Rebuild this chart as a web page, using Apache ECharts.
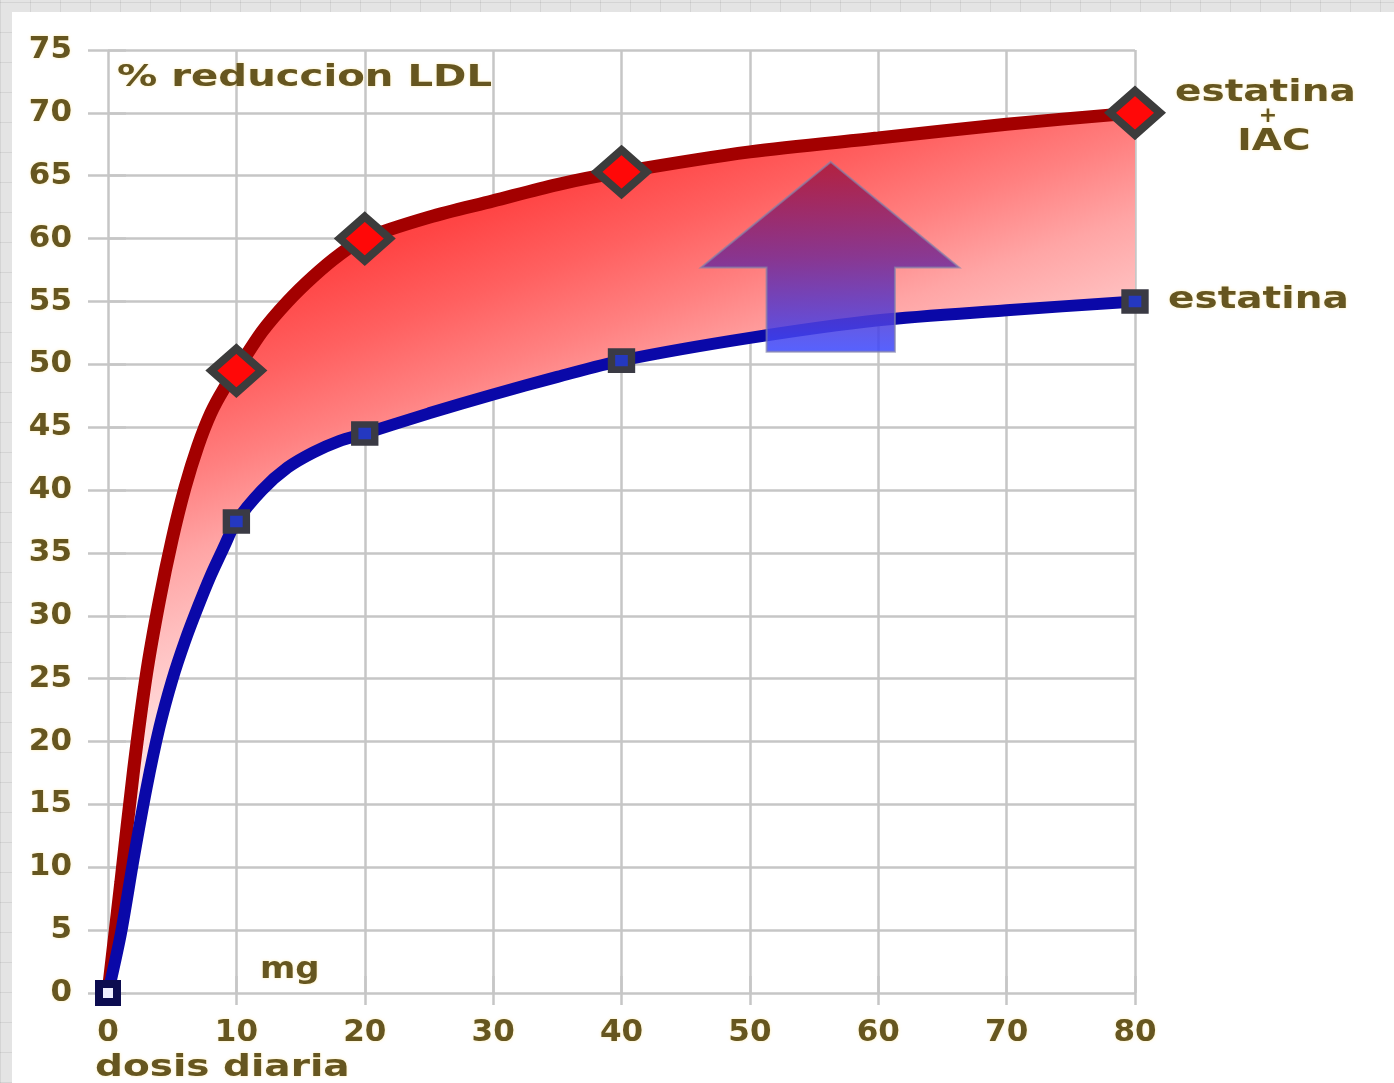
<!DOCTYPE html>
<html><head><meta charset="utf-8">
<script src="https://cdn.jsdelivr.net/npm/echarts@6/dist/echarts.min.js"></script>
<style>
html,body{margin:0;padding:0;}
body{width:1394px;height:1083px;position:relative;overflow:hidden;background:#e4e4e4;
background-image:repeating-linear-gradient(90deg,rgba(0,0,0,0.07) 0 1px,transparent 1px 30px),repeating-linear-gradient(0deg,rgba(0,0,0,0.07) 0 1px,transparent 1px 30px);}
#paper{position:absolute;left:12px;top:12px;right:0;bottom:0;background:#fff;}
#chart{position:absolute;left:0;top:0;width:1394px;height:1083px;}
</style></head><body><div id="paper"></div><div id="chart"></div>
<script>
// ---- data ----
const markerDoses = [0, 10, 20, 40, 80];
const reductionCombo = [0, 49.5, 60, 65.3, 70];     // estatina + IAC
const reductionStatin = [0, 37.5, 44.5, 50.3, 55];  // estatina
// points
const curveDoses  = [0, 1, 2, 3, 4, 5, 6, 7, 8, 9, 10, 12, 14, 16, 18, 20, 25, 30, 35, 40, 50, 60, 70, 80];
const curveCombo  = [0, 8.8, 17.8, 25.4, 31.2, 36.1, 40.2, 43.5, 46.1, 48.0, 49.5, 52.6, 55.0, 57.0, 58.7, 60.0, 61.7, 63.0, 64.3, 65.3, 66.9, 68.0, 69.1, 70];
const curveStatin = [0, 4.7, 10.7, 16.3, 21.1, 24.9, 28.0, 30.7, 33.2, 35.4, 37.5, 40.0, 41.8, 43.0, 43.9, 44.5, 46.1, 47.6, 49.0, 50.3, 52.1, 53.5, 54.3, 55];
const yLabel = '% reduccion LDL';
const xLabel = 'dosis diaria';
const unitLabel = 'mg';
const comboLabel = ['estatina', '+', 'IAC'];
const statinLabel = 'estatina';

// ---- chart ----
const TXT = '#665620';
const GLOW = 'rgba(255,220,100,0.55)';
const GRID = '#c6c6c6';
const chart = echarts.init(document.getElementById('chart'));

// stacked band: stored as [value, dose] so that the value dimension is the stacked one
const statinCurve = curveDoses.map((x, i) => [curveStatin[i], x]);
const bandCurve = curveDoses.map((x, i) => [+(curveCombo[i] - curveStatin[i]).toFixed(2), x]);
const comboMarks = markerDoses.slice(1).map((x, i) => [x, reductionCombo[i + 1]]);
const statinMarks = markerDoses.slice(1).map((x, i) => [x, reductionStatin[i + 1]]);
const originMark = [[markerDoses[0], reductionStatin[0]]];

// arrow outline in data units
const arrowOutline = [[56.3, 66.1], [66.3, 57.7], [61.3, 57.7], [61.3, 51.0], [51.3, 51.0], [51.3, 57.7], [46.2, 57.7]];

const labelStyle = {fontSize: 31, fontWeight: 'bold', fontFamily: 'DejaVu Sans', color: TXT,
  textShadowColor: GLOW, textShadowBlur: 3};
const tickStyle = {color: GRID, width: 2.5};

function txt(text, x, y, opts) {
  opts = opts || {};
  return {
    type: 'text', x: x, y: y, scaleX: opts.sx || 1.3, z: 20,
    style: {
      text: text, x: 0, y: 0,
      font: 'bold ' + (opts.size || 30) + 'px "DejaVu Sans"',
      fill: TXT, textAlign: opts.align || 'left', textVerticalAlign: 'middle',
      textShadowColor: GLOW, textShadowBlur: 3
    }
  };
}

const SMOOTH = 0.3;
chart.setOption({
  animation: false,
  grid: {left: 108, right: 259, top: 50, bottom: 90},
  xAxis: [
    {type: 'value', min: 0, max: 80, interval: 10, position: 'bottom',
     axisLine: {show: false}, axisTick: {show: true, length: 12, lineStyle: tickStyle},
     axisLabel: Object.assign({margin: 24}, labelStyle),
     splitLine: {show: true, lineStyle: {color: GRID, width: 2.5}}},
    {type: 'value', min: 0, max: 80, interval: 10, position: 'top',
     axisLine: {show: false}, axisTick: {show: true, length: 17, lineStyle: tickStyle},
     axisLabel: {show: false}, splitLine: {show: false}}
  ],
  yAxis: [
    {type: 'value', min: 0, max: 75, interval: 5, position: 'left',
     axisLine: {show: false}, axisTick: {show: true, length: 20, lineStyle: tickStyle},
     axisLabel: Object.assign({margin: 36}, labelStyle),
     splitLine: {show: true, lineStyle: {color: GRID, width: 2.5}}},
    {type: 'value', min: 0, max: 75, interval: 5, position: 'right',
     axisLine: {show: false}, axisTick: {show: true, length: 18, lineStyle: tickStyle},
     axisLabel: {show: false}, splitLine: {show: false}}
  ],
  series: [
    {name: 'estatina', type: 'line', stack: 'band', smooth: SMOOTH, showSymbol: false,
     data: statinCurve, encode: {x: 1, y: 0}, z: 4,
     lineStyle: {color: '#0a08a8', width: 12}},
    {name: 'estatina + IAC', type: 'line', stack: 'band', smooth: SMOOTH, showSymbol: false,
     data: bandCurve, encode: {x: 1, y: 0}, z: 3,
     lineStyle: {color: '#a30000', width: 13},
     areaStyle: {opacity: 1, color: new echarts.graphic.LinearGradient(0.187, 0.008, 0.43, 0.803, [
       {offset: 0, color: '#ff2d2d'}, {offset: 0.2, color: '#ff4545'}, {offset: 0.3, color: '#ff6060'},
       {offset: 0.4, color: '#ff8080'}, {offset: 0.5, color: '#ffa5a5'}, {offset: 0.6, color: '#ffc0c0'},
       {offset: 0.7, color: '#ffd8d8'}, {offset: 0.85, color: '#fff0f0'}, {offset: 1, color: '#ffffff'}])}},
    {name: 'arrow', type: 'custom', data: [[0, 0]], z: 6, clip: false, silent: true,
     renderItem: function (params, api) {
       const pts = arrowOutline.map(p => api.coord(p));
       return {type: 'polygon', shape: {points: pts}, style: {
         fill: new echarts.graphic.LinearGradient(0, 0, 0, 1, [
           {offset: 0, color: '#a8173a'}, {offset: 0.5, color: '#762a92'}, {offset: 1, color: '#3a48ff'}]),
         stroke: 'rgba(130,130,170,0.8)', lineWidth: 2, opacity: 0.86}};
     }},
    {name: 'combo marks', type: 'scatter', data: comboMarks, z: 7,
     symbol: 'diamond', symbolSize: [50, 44],
     itemStyle: {color: '#ff0808', borderColor: '#3c3c3c', borderWidth: 8, opacity: 1}},
    {name: 'statin marks', type: 'scatter', data: statinMarks, z: 7,
     symbol: 'rect', symbolSize: [20, 18],
     itemStyle: {color: '#2438c0', borderColor: '#3a3a44', borderWidth: 7, opacity: 1}},
    {name: 'origin', type: 'scatter', data: originMark, z: 8,
     symbol: 'rect', symbolSize: 18,
     itemStyle: {color: '#eeeeff', borderColor: '#0c0c50', borderWidth: 8, opacity: 1}}
  ],
  graphic: [
    txt(yLabel, 117, 78, {sx: 1.34}),
    txt(unitLabel, 260, 970, {sx: 1.13}),
    txt(xLabel, 95, 1068),
    txt(comboLabel[0], 1175, 93),
    txt(comboLabel[1], 1268, 116, {align: 'center', size: 22, sx: 1}),
    txt(comboLabel[2], 1274, 142, {align: 'center'}),
    txt(statinLabel, 1168, 300)
  ]
});
</script></body></html>
